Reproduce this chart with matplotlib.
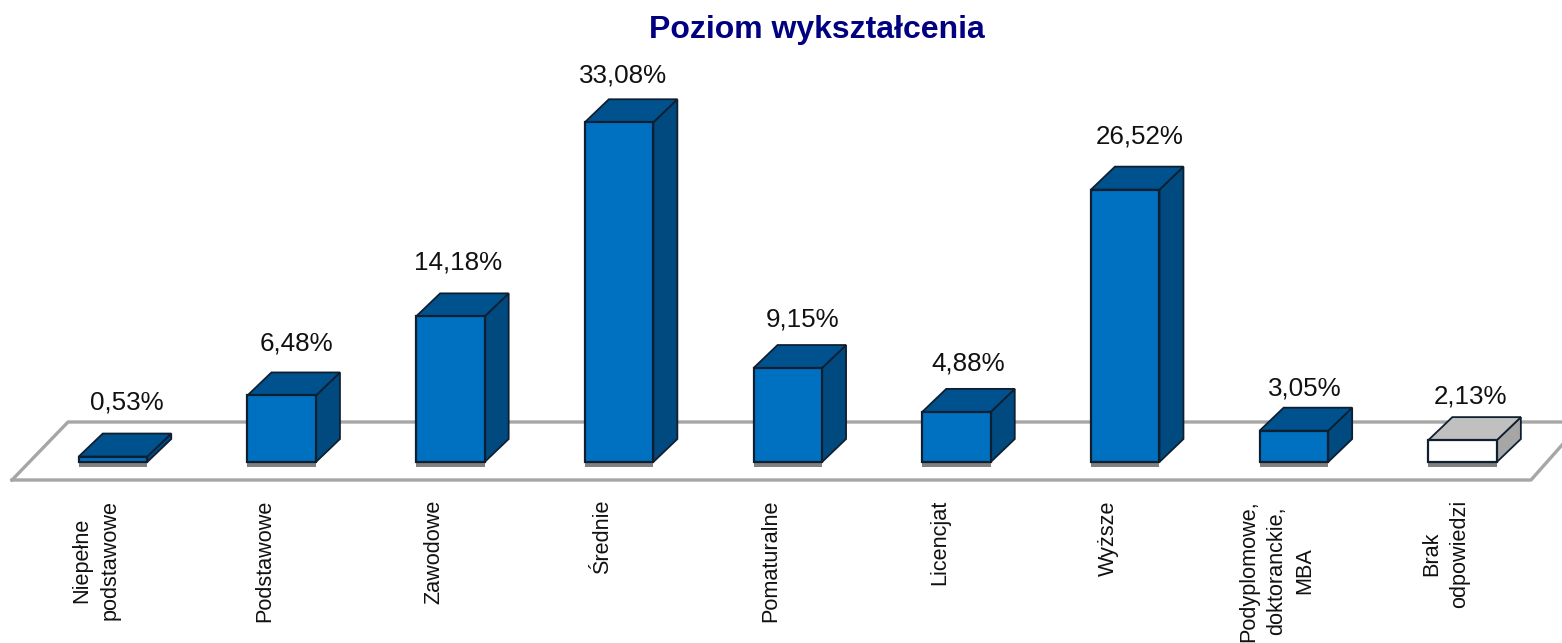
#!/usr/bin/python3

import matplotlib
matplotlib.use("Agg")
import matplotlib.pyplot as plt
from matplotlib.patches import Polygon


CATEGORIES = ["Niepełne\npodstawowe", "Podstawowe", "Zawodowe", "Średnie", "Pomaturalne",
              "Licencjat", "Wyższe", "Podyplomowe,\ndoktoranckie,\nMBA", "Brak\nodpowiedzi"]
VALUES = [0.53, 6.48, 14.18, 33.08, 9.15, 4.88, 26.52, 3.05, 2.13]
VALUE_LABELS = ["0,53%", "6,48%", "14,18%", "33,08%", "9,15%", "4,88%", "26,52%", "3,05%", "2,13%"]

# hand tweaks for the value labels, in pixels
LABEL_DX = [14, 14.5, 8, 4, 14.5, 12, 14, 10.5, 8]
LABEL_DY = [31, 29, 31, 24, 26, 25, 30, 19, 21]

PX_X = 168.7
PX_Y = 10.27
BAR_W = 68.5 / PX_X
DEPTH_X = 24 / PX_X
DEPTH_Y = 23 / PX_Y

EDGE = "#101f30"
FLOOR = "#a6a6a6"
BLUE = ("#0070c0", "#00528f", "#004a80")
WHITE = ("#ffffff", "#c0c0c0", "#a6a6a6")


def draw_floor(ax):
  ax.plot([(12 - 113) / PX_X, (1531 - 113) / PX_X, (1562 - 113) / PX_X],
          [-18 / PX_Y, -18 / PX_Y, 17 / PX_Y], color=FLOOR, lw=2.4, zorder=0)
  ax.plot([(12 - 113) / PX_X, (68 - 113) / PX_X, (1562 - 113) / PX_X],
          [-18 / PX_Y, 40 / PX_Y, 40 / PX_Y], color=FLOOR, lw=2.4, zorder=0)


def draw_bar(ax, x, value, colors):
  left, right = x - BAR_W / 2, x + BAR_W / 2
  front, top, side = colors
  shadow = 5 / PX_Y
  ax.add_patch(Polygon([(left, -shadow), (right, -shadow), (right, 0), (left, 0)], fc="#808080", ec="none"))
  ax.add_patch(Polygon([(right, 0), (right + DEPTH_X, DEPTH_Y), (right + DEPTH_X, value + DEPTH_Y), (right, value)],
                       fc=side, ec=EDGE, lw=1.3))
  ax.add_patch(Polygon([(left, value), (right, value), (right + DEPTH_X, value + DEPTH_Y), (left + DEPTH_X, value + DEPTH_Y)],
                       fc=top, ec=EDGE, lw=1.3))
  ax.add_patch(Polygon([(left, 0), (right, 0), (right, value), (left, value)], fc=front, ec=EDGE, lw=1.6))


def main():
  plt.rcParams["font.family"] = ["Liberation Sans", "DejaVu Sans"]
  fig = plt.figure(figsize=(15.62, 6.43), dpi=100)
  ax = fig.add_axes([0, 0, 1, 1])
  ax.set_xlim(-113 / PX_X, (1562 - 113) / PX_X)
  ax.set_ylim(-(643 - 462) / PX_Y, 462 / PX_Y)
  ax.axis("off")

  draw_floor(ax)

  for i, value in enumerate(VALUES):
    colors = WHITE if i == len(VALUES) - 1 else BLUE
    draw_bar(ax, i, value, colors)
    ax.text(i + LABEL_DX[i] / PX_X, value + DEPTH_Y + LABEL_DY[i] / PX_Y, VALUE_LABELS[i],
            ha="center", va="center", fontsize=18.7, color="#111111")
    ax.text(i - 17 / PX_X, -38 / PX_Y, CATEGORIES[i], rotation=90, ha="center", va="top",
            multialignment="center", fontsize=15.6, color="#111111", linespacing=1.42)

  fig.text(817 / 1562, 1 - 30 / 643, "Poziom wykształcenia", ha="center", va="center",
           fontsize=23, fontweight="bold", color="#000080")

  fig.savefig("out.png", dpi=100)


if __name__ == "__main__":
  main()
